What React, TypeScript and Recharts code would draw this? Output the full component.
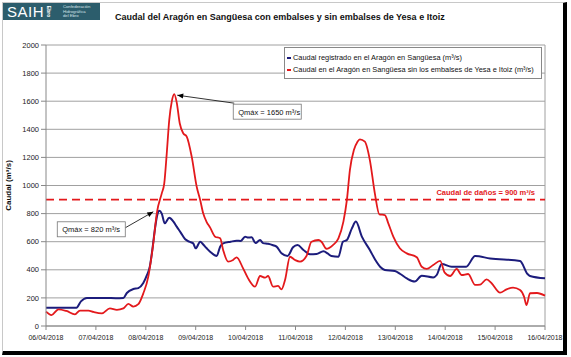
import {
  LineChart,
  Line,
  XAxis,
  YAxis,
  CartesianGrid,
  ReferenceLine,
  ReferenceDot,
  Legend,
} from 'recharts'

// days since 06/04/2018 00:00
const dayLabels = [
  '06/04/2018', '07/04/2018', '08/04/2018', '09/04/2018', '10/04/2018', '11/04/2018',
  '12/04/2018', '13/04/2018', '14/04/2018', '15/04/2018', '16/04/2018',
]
const yTicks = [0, 200, 400, 600, 800, 1000, 1200, 1400, 1600, 1800, 2000]

const regT = [
  0, 0.61, 0.7, 0.82, 1.0, 1.2, 1.4, 1.55, 1.62, 1.75, 1.85, 1.95, 2.02, 2.08, 2.13, 2.18, 2.23, 2.27,
  2.32, 2.38, 2.47, 2.55, 2.62, 2.7, 2.79, 2.87, 2.95, 3.0, 3.09, 3.15, 3.22, 3.3, 3.42, 3.49, 3.55,
  3.7, 3.82, 3.9, 3.99, 4.05, 4.12, 4.2, 4.29, 4.35, 4.45, 4.55, 4.62, 4.72, 4.84, 4.95, 5.04, 5.16,
  5.29, 5.42, 5.56, 5.65, 5.72, 5.86, 5.95, 6.03, 6.13, 6.21, 6.33, 6.49, 6.6, 6.7, 6.79, 6.99, 7.1,
  7.23, 7.39, 7.53, 7.76, 7.83, 7.93, 8.13, 8.42, 8.6, 8.9, 9.5, 9.65, 9.7, 10,
]
const regV = [
  130, 130, 175, 200, 200, 200, 198, 200, 235, 263, 270, 306, 360, 422, 540, 683, 790, 820,
  800, 731, 771, 745, 707, 665, 617, 600, 588, 553, 600, 580, 553, 525, 498, 564, 588,
  600, 607, 605, 636, 630, 631, 590, 612, 590, 585, 575, 565, 517, 498, 560, 576, 541,
  510, 512, 532, 515, 498, 493, 600, 612, 695, 743, 636, 541, 470, 420, 399, 391, 370,
  339, 316, 358, 346, 363, 441, 422, 422, 498, 481, 463, 370, 356, 339,
]

const natT = [
  0, 0.11, 0.25, 0.41, 0.58, 0.68, 0.85, 0.95, 1.12, 1.28, 1.42, 1.55, 1.65, 1.75, 1.85, 1.95, 2.05,
  2.1, 2.15, 2.22, 2.32, 2.37, 2.42, 2.47, 2.52, 2.57, 2.62, 2.68, 2.75, 2.82, 2.92, 3.02, 3.09, 3.15,
  3.22, 3.29, 3.39, 3.49, 3.55, 3.65, 3.75, 3.82, 3.95, 4.05, 4.19, 4.29, 4.39, 4.45, 4.55, 4.65,
  4.72, 4.79, 4.89, 4.99, 5.09, 5.22, 5.32, 5.46, 5.52, 5.62, 5.75, 5.86, 5.96, 6.03, 6.09, 6.17,
  6.24, 6.29, 6.39, 6.49, 6.59, 6.68, 6.79, 6.86, 6.96, 7.09, 7.23, 7.43, 7.53, 7.63, 7.76, 7.9,
  7.99, 8.1, 8.23, 8.33, 8.46, 8.6, 8.7, 8.83, 8.93, 9.1, 9.23, 9.36, 9.5, 9.58, 9.63, 9.7, 9.84, 10,
]
const natV = [
  102, 78, 119, 107, 83, 110, 110, 100, 90, 126, 115, 125, 157, 138, 155, 232, 351,
  460, 588, 802, 944, 1015, 1229, 1466, 1597, 1650, 1590, 1443, 1372, 1348, 1205, 991, 897, 802,
  740, 700, 636, 624, 541, 458, 470, 489, 410, 339, 280, 356, 344, 356, 280, 285,
  261, 327, 493, 470, 458, 498, 600, 612, 600, 550, 576, 624, 743, 897, 1110, 1253,
  1310, 1329, 1312, 1181, 944, 795, 790, 731, 636, 553, 517, 489, 422, 406, 434, 463,
  380, 356, 406, 363, 370, 292, 295, 332, 304, 237, 261, 273, 256, 209, 149, 233, 235, 216,
]

const damageFlow = 900
const regPeak = { t: 2.27, v: 820 }
const natPeak = { t: 2.57, v: 1650 }

const regData = regT.map((t, i) => ({ t, q: regV[i] }))
const natData = natT.map((t, i) => ({ t, q: natV[i] }))

const BLUE = '#1c1c7c'
const RED = '#e3191c'
const FONT = 'Arial, "Liberation Sans", sans-serif'

const Callout = (props: any) => {
  const { cx, cy, text, bx, by, bw, ax, ay, sx, sy } = props
  const ex = cx + ax
  const ey = cy + ay
  const ang = Math.atan2(sy - ay, sx - ax)
  const L = 6
  const W = 2.5
  const p1x = ex + L * Math.cos(ang) - W * Math.sin(ang)
  const p1y = ey + L * Math.sin(ang) + W * Math.cos(ang)
  const p2x = ex + L * Math.cos(ang) + W * Math.sin(ang)
  const p2y = ey + L * Math.sin(ang) - W * Math.cos(ang)
  return (
    <g>
      <line x1={cx + sx} y1={cy + sy} x2={ex} y2={ey} stroke="#000" strokeWidth={0.8} />
      <polygon points={`${ex},${ey} ${p1x},${p1y} ${p2x},${p2y}`} fill="#000" />
      <rect x={cx + bx} y={cy + by} width={bw} height={15} fill="#fff" stroke="#777" strokeWidth={0.8} />
      <text x={cx + bx + 5} y={cy + by + 10.5} fontSize={7.5} fontFamily={FONT} fill="#111">
        {text}
      </text>
    </g>
  )
}

const DamageLabel = (props: any) => {
  const vb = props.viewBox || {}
  return (
    <text
      x={vb.x + vb.width - 10}
      y={vb.y - 5}
      textAnchor="end"
      fontSize={7.5}
      fontWeight="bold"
      fontFamily={FONT}
      fill={RED}
    >
      {`Caudal de daños = ${damageFlow} m³/s`}
    </text>
  )
}

const LegendBox = () => (
  <div
    style={{
      width: 258,
      height: 32,
      border: '1px solid #888',
      background: '#fff',
      fontFamily: FONT,
      fontSize: 7.4,
      color: '#111',
      boxSizing: 'border-box',
      padding: '4px 0 0 2px',
      lineHeight: '12px',
    }}
  >
    <div style={{ display: 'flex', alignItems: 'center' }}>
      <span style={{ width: 4, height: 2, background: BLUE, marginRight: 2 }} />
      Caudal registrado en el Aragón en Sangüesa (m³/s)
    </div>
    <div style={{ display: 'flex', alignItems: 'center' }}>
      <span style={{ width: 4, height: 2, background: RED, marginRight: 2 }} />
      Caudal en el Aragón en Sangüesa sin los embalses de Yesa e Itoiz (m³/s)
    </div>
  </div>
)

export default function App() {
  return (
    <div style={{ position: 'relative', width: 571, height: 357, background: '#fff', fontFamily: FONT }}>
      <style>{'body{margin:0}'}</style>
      <div
        style={{
          position: 'absolute',
          left: 2,
          top: 2,
          width: 560,
          height: 348,
          borderTop: '1px solid #c8c8c8',
          borderLeft: '1px solid #c8c8c8',
          borderRight: '4px solid #000',
          borderBottom: '4px solid #000',
        }}
      />
      {/* logo */}
      <div
        style={{
          position: 'absolute',
          left: 3,
          top: 3,
          width: 97,
          height: 17,
          background: '#2c5d6c',
          color: '#fff',
          overflow: 'hidden',
        }}
      >
        <span style={{ position: 'absolute', left: 4, top: 0, fontSize: 15, letterSpacing: 0.5, lineHeight: '17px' }}>
          SAIH
        </span>
        <span
          style={{
            position: 'absolute',
            left: 40,
            top: 6,
            fontSize: 5,
            fontWeight: 'bold',
            transform: 'rotate(90deg)',
            lineHeight: '5px',
          }}
        >
          Ebro
        </span>
        <span
          style={{
            position: 'absolute',
            left: 60,
            top: 2,
            fontSize: 4.2,
            lineHeight: '4.6px',
            color: '#d8e4e8',
            whiteSpace: 'nowrap',
          }}
        >
          Confederación
          <br />
          Hidrográfica
          <br />
          del Ebro
        </span>
      </div>
      <div
        style={{
          position: 'absolute',
          left: 115,
          top: 12,
          fontSize: 9,
          fontWeight: 'bold',
          color: '#111',
          whiteSpace: 'nowrap',
        }}
      >
        Caudal del Aragón en Sangüesa con embalses y sin embalses de Yesa e Itoiz
      </div>
      <div style={{ position: 'absolute', left: 0, top: 0 }}>
        <LineChart width={571} height={357} margin={{ top: 45, right: 26, bottom: 11, left: 6 }}>
          <CartesianGrid vertical={false} stroke="#a0a0a0" strokeWidth={1} />
          <XAxis
            dataKey="t"
            type="number"
            domain={[0, 10]}
            ticks={dayLabels.map((_, i) => i)}
            tickFormatter={(v: number) => dayLabels[v]}
            tick={{ fontSize: 7, fill: '#222', fontFamily: FONT }}
            stroke="#888"
            tickSize={4}
            tickMargin={5}
            height={20}
            interval={0}
          />
          <YAxis
            type="number"
            domain={[0, 2000]}
            ticks={yTicks}
            tick={{ fontSize: 7.5, fill: '#222', fontFamily: FONT }}
            stroke="#888"
            tickSize={5}
            width={40}
            interval={0}
            label={{
              value: 'Caudal (m³/s)',
              angle: -90,
              position: 'insideLeft',
              offset: 2,
              style: { fontSize: 8, fontWeight: 'bold', fill: '#111', fontFamily: FONT, textAnchor: 'middle' },
            }}
          />
          <ReferenceLine x={10} stroke="#a0a0a0" />
          <ReferenceLine
            y={damageFlow}
            stroke={RED}
            strokeWidth={1.8}
            strokeDasharray="8 5"
            label={<DamageLabel />}
          />
          <Line
            data={regData}
            dataKey="q"
            name="Caudal registrado en el Aragón en Sangüesa (m³/s)"
            type="monotone"
            stroke={BLUE}
            strokeWidth={2}
            dot={false}
            isAnimationActive={false}
          />
          <Line
            data={natData}
            dataKey="q"
            name="Caudal en el Aragón en Sangüesa sin los embalses de Yesa e Itoiz (m³/s)"
            type="monotone"
            stroke={RED}
            strokeWidth={1.8}
            dot={false}
            isAnimationActive={false}
          />
          <ReferenceDot
            x={natPeak.t}
            y={natPeak.v}
            r={0}
            shape={(p: any) => (
              <Callout {...p} text={`Qmáx = ${natPeak.v} m³/s`} bx={59} by={10} bw={68} sx={60} sy={9} ax={3} ay={1} />
            )}
          />
          <ReferenceDot
            x={regPeak.t}
            y={regPeak.v}
            r={0}
            shape={(p: any) => (
              <Callout {...p} text={`Qmáx = ${regPeak.v} m³/s`} bx={-102} by={11} bw={68} sx={-34} sy={17} ax={-6} ay={1} />
            )}
          />
          <Legend
            layout="vertical"
            align="center"
            verticalAlign="middle"
            content={() => <LegendBox />}
            wrapperStyle={{ left: 284, top: 47, width: 258, height: 32 }}
          />
        </LineChart>
      </div>
    </div>
  )
}
